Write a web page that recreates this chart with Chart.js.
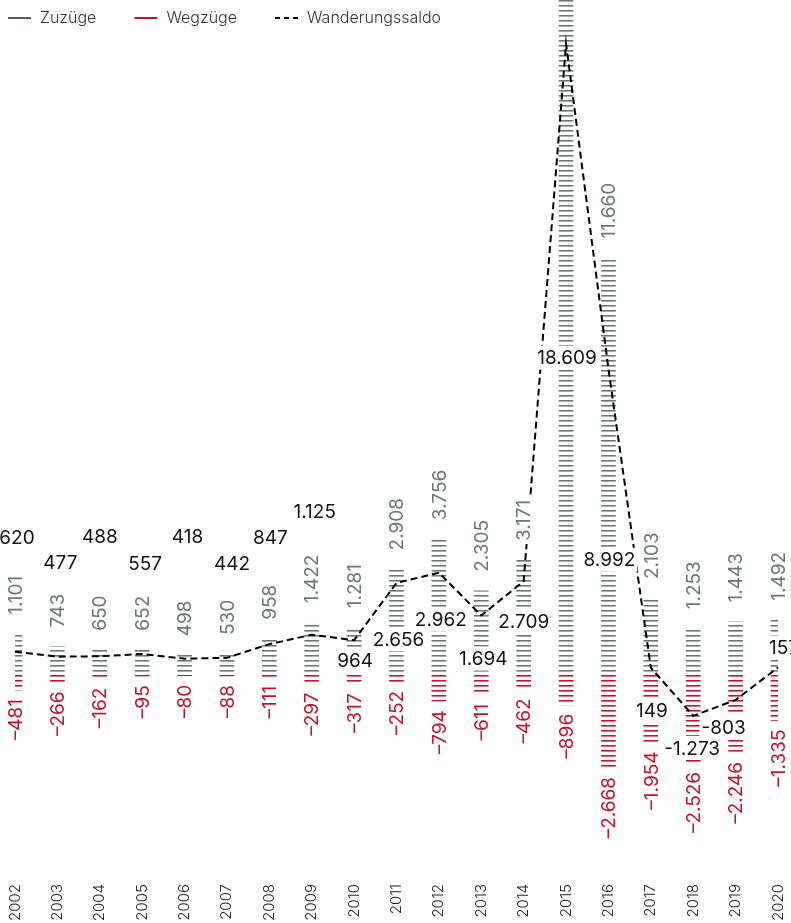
<!DOCTYPE html>
<html>
<head>
<meta charset="utf-8">
<script src="https://cdn.jsdelivr.net/npm/chart.js@4.4.1/dist/chart.umd.min.js"></script>
<style>
  html, body { margin: 0; padding: 0; background: #fff; }
</style>
</head>
<body>
<canvas id="chart" width="791" height="923"></canvas>
<script>
const years = ['2002', '2003', '2004', '2005', '2006', '2007', '2008', '2009', '2010', '2011',
               '2012', '2013', '2014', '2015', '2016', '2017', '2018', '2019', '2020'];
const zuzuege = [1101, 743, 650, 652, 498, 530, 958, 1422, 1281, 2908,
                 3756, 2305, 3171, 19505, 11660, 2103, 1253, 1443, 1492];
const wegzuege = [-481, -266, -162, -95, -80, -88, -111, -297, -317, -252,
                  -794, -611, -462, -896, -2668, -1954, -2526, -2246, -1335];
const saldo = [620, 477, 488, 557, 418, 442, 847, 1125, 964, 2656,
               2962, 1694, 2709, 18609, 8992, 149, -1273, -803, 157];

// where each saldo label sits, in px relative to its point
const saldoLabelShift = [[2, -115], [3, -94], [0, -120], [3, -91], [3, -122], [5, -95], [1, -107],
  [3, -123], [1, 20], [2, 56], [2, 47], [2, 43], [0, 40], [1, 314], [1, 191], [1, 43], [-1, 32],
  [-12, 27], [6, -20]];

const FONT = 'Inter, "Noto Sans", sans-serif';
const grey = '#6e747b';
const red = '#c8102e';

const fmt = v => (v < 0 ? '-' : '') + String(Math.abs(v)).replace(/\B(?=(\d{3})+(?!\d))/g, '.');

function stripes(color) {
  const c = document.createElement('canvas');
  c.width = 4; c.height = 5;
  const g = c.getContext('2d');
  g.fillStyle = color;
  g.fillRect(0, 0, 4, 1);
  g.globalAlpha = 0.6;
  g.fillRect(0, 1, 4, 1);
  return g.createPattern(c, 'repeat');
}

function rotatedLabel(ctx, text, x, y, align, color) {
  ctx.save();
  ctx.translate(x, y);
  ctx.rotate(-Math.PI / 2);
  const w = ctx.measureText(text).width;
  ctx.fillStyle = '#fff';
  ctx.fillRect(align === 'left' ? -3 : -w - 3, -10, w + 6, 20);
  ctx.fillStyle = color;
  ctx.textAlign = align;
  ctx.textBaseline = 'middle';
  ctx.fillText(text, 0, 1);
  ctx.restore();
}

function flatLabel(ctx, text, x, y, color) {
  const w = ctx.measureText(text).width;
  ctx.fillStyle = '#fff';
  ctx.fillRect(x - w / 2 - 2, y - 12, w + 4, 24);
  ctx.fillStyle = color;
  ctx.textAlign = 'center';
  ctx.textBaseline = 'middle';
  ctx.fillText(text, x, y + 1);
}

const valueLabels = {
  id: 'valueLabels',
  afterDatasetsDraw(chart) {
    const ctx = chart.ctx;
    ctx.save();
    ctx.font = '19px ' + FONT;
    chart.getDatasetMeta(0).data.forEach((bar, i) => {
      rotatedLabel(ctx, fmt(zuzuege[i]), bar.x, bar.y - 19, 'left', grey);
    });
    chart.getDatasetMeta(1).data.forEach((bar, i) => {
      rotatedLabel(ctx, '\u2013' + fmt(-wegzuege[i]), bar.x, bar.y + 9, 'right', red);
    });
    chart.getDatasetMeta(2).data.forEach((pt, i) => {
      const s = saldoLabelShift[i];
      flatLabel(ctx, fmt(saldo[i]), pt.x + s[0], pt.y + s[1], '#111');
    });
    ctx.restore();
  }
};

const legendItems = [
  { text: 'Zuzüge', color: '#545a61', dash: [] },
  { text: 'Wegzüge', color: red, dash: [] },
  { text: 'Wanderungssaldo', color: '#000', dash: [5, 4] }
];

const topLegend = {
  id: 'topLegend',
  afterDraw(chart) {
    const ctx = chart.ctx;
    ctx.save();
    ctx.font = '300 16px ' + FONT;
    ctx.textBaseline = 'middle';
    let x = 8;
    const y = 18;
    legendItems.forEach(item => {
      ctx.strokeStyle = item.color;
      ctx.lineWidth = 2;
      ctx.setLineDash(item.dash);
      ctx.beginPath();
      ctx.moveTo(x, y);
      ctx.lineTo(x + 23, y);
      ctx.stroke();
      ctx.fillStyle = '#333';
      ctx.fillText(item.text, x + 32, y);
      x += 32 + ctx.measureText(item.text).width + 38;
    });
    ctx.restore();
  }
};

new Chart(document.getElementById('chart'), {
  data: {
    labels: years,
    datasets: [
      {
        type: 'bar',
        label: 'Zuzüge',
        data: zuzuege,
        backgroundColor: stripes(grey),
        barThickness: 14,
        yAxisID: 'y',
        order: 2
      },
      {
        type: 'bar',
        label: 'Wegzüge',
        data: wegzuege,
        backgroundColor: stripes(red),
        barThickness: 14,
        yAxisID: 'y',
        order: 2
      },
      {
        type: 'line',
        label: 'Wanderungssaldo',
        data: saldo,
        borderColor: '#000',
        borderWidth: 2,
        borderDash: [7, 4],
        pointRadius: 0,
        tension: 0,
        yAxisID: 'y2',
        order: 1,
        clip: false
      }
    ]
  },
  options: {
    responsive: false,
    devicePixelRatio: 1,
    animation: false,
    layout: { padding: { left: 15, right: 13, top: 0, bottom: 0 } },
    plugins: {
      legend: { display: false },
      tooltip: { enabled: false }
    },
    scales: {
      x: {
        stacked: true,
        offset: false,
        grid: { display: false, drawTicks: false },
        border: { display: false },
        ticks: {
          autoSkip: false,
          minRotation: 90,
          maxRotation: 90,
          padding: 6,
          color: '#222',
          font: { family: FONT, size: 15, weight: 300 }
        },
        afterFit: s => { s.height = 45; s.paddingLeft = 0; s.paddingRight = 0; }
      },
      y: { display: false, stacked: true, min: -5760, max: 18900 },
      y2: { display: false, min: -6070, max: 19900 }
    }
  },
  plugins: [valueLabels, topLegend]
});
</script>
</body>
</html>
